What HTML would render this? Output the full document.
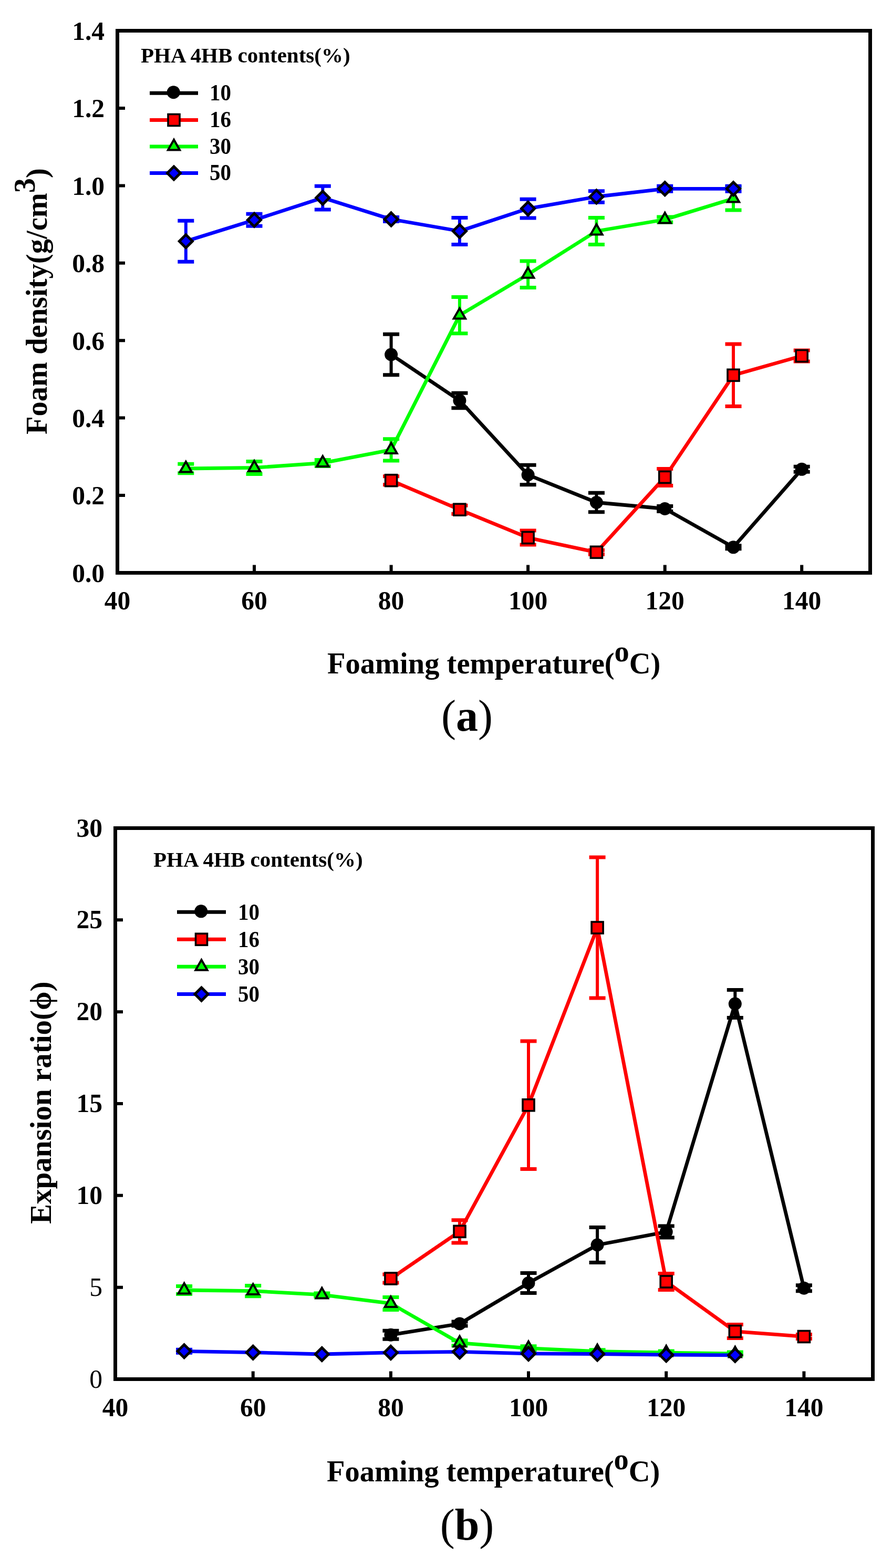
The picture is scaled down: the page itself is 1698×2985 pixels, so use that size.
<!DOCTYPE html><html><head><meta charset="utf-8"><title>Foam density and expansion ratio</title>
<style>html,body{margin:0;padding:0;background:#fff}svg{display:block}</style></head><body>
<svg width="1698" height="2985" viewBox="0 0 1698 2985">
<rect width="1698" height="2985" fill="#fff"/>
<polyline points="744.6,675.0 874.9,762.5 1005.1,904.0 1135.4,956.5 1265.7,968.5 1396.0,1041.8 1526.2,893.3" fill="none" stroke="#000000" stroke-width="6.8" stroke-linejoin="round"/>
<path d="M744.6 636.2V713.8" stroke="#000000" stroke-width="6" fill="none"/><path d="M729.1 636.2H760.1M729.1 713.8H760.1" stroke="#000000" stroke-width="7" fill="none"/>
<path d="M874.9 748.3V776.7" stroke="#000000" stroke-width="6" fill="none"/><path d="M859.4 748.3H890.4M859.4 776.7H890.4" stroke="#000000" stroke-width="7" fill="none"/>
<path d="M1005.1 885.3V922.7" stroke="#000000" stroke-width="6" fill="none"/><path d="M989.6 885.3H1020.6M989.6 922.7H1020.6" stroke="#000000" stroke-width="7" fill="none"/>
<path d="M1135.4 938.2V974.8" stroke="#000000" stroke-width="6" fill="none"/><path d="M1119.9 938.2H1150.9M1119.9 974.8H1150.9" stroke="#000000" stroke-width="7" fill="none"/>
<path d="M1265.7 963.5V973.5" stroke="#000000" stroke-width="6" fill="none"/><path d="M1250.2 963.5H1281.2M1250.2 973.5H1281.2" stroke="#000000" stroke-width="7" fill="none"/>
<path d="M1396.0 1038.8V1044.8" stroke="#000000" stroke-width="6" fill="none"/><path d="M1380.5 1038.8H1411.5M1380.5 1044.8H1411.5" stroke="#000000" stroke-width="7" fill="none"/>
<path d="M1526.2 888.3V898.3" stroke="#000000" stroke-width="6" fill="none"/><path d="M1510.7 888.3H1541.7M1510.7 898.3H1541.7" stroke="#000000" stroke-width="7" fill="none"/>
<circle cx="744.6" cy="675.0" r="12.5" fill="#000"/>
<circle cx="874.9" cy="762.5" r="12.5" fill="#000"/>
<circle cx="1005.1" cy="904.0" r="12.5" fill="#000"/>
<circle cx="1135.4" cy="956.5" r="12.5" fill="#000"/>
<circle cx="1265.7" cy="968.5" r="12.5" fill="#000"/>
<circle cx="1396.0" cy="1041.8" r="12.5" fill="#000"/>
<circle cx="1526.2" cy="893.3" r="12.5" fill="#000"/>
<polyline points="744.6,914.7 874.9,970.2 1005.1,1023.6 1135.4,1051.3 1265.7,908.4 1396.0,714.3 1526.2,677.5" fill="none" stroke="#ff0000" stroke-width="6.8" stroke-linejoin="round"/>
<path d="M744.6 906.7V922.7" stroke="#ff0000" stroke-width="6" fill="none"/><path d="M729.1 906.7H760.1M729.1 922.7H760.1" stroke="#ff0000" stroke-width="7" fill="none"/>
<path d="M874.9 962.2V978.2" stroke="#ff0000" stroke-width="6" fill="none"/><path d="M859.4 962.2H890.4M859.4 978.2H890.4" stroke="#ff0000" stroke-width="7" fill="none"/>
<path d="M1005.1 1010.1V1037.1" stroke="#ff0000" stroke-width="6" fill="none"/><path d="M989.6 1010.1H1020.6M989.6 1037.1H1020.6" stroke="#ff0000" stroke-width="7" fill="none"/>
<path d="M1135.4 1047.3V1055.3" stroke="#ff0000" stroke-width="6" fill="none"/><path d="M1119.9 1047.3H1150.9M1119.9 1055.3H1150.9" stroke="#ff0000" stroke-width="7" fill="none"/>
<path d="M1265.7 892.4V924.4" stroke="#ff0000" stroke-width="6" fill="none"/><path d="M1250.2 892.4H1281.2M1250.2 924.4H1281.2" stroke="#ff0000" stroke-width="7" fill="none"/>
<path d="M1396.0 655.0V773.6" stroke="#ff0000" stroke-width="6" fill="none"/><path d="M1380.5 655.0H1411.5M1380.5 773.6H1411.5" stroke="#ff0000" stroke-width="7" fill="none"/>
<path d="M1526.2 667.0V688.0" stroke="#ff0000" stroke-width="6" fill="none"/><path d="M1510.7 667.0H1541.7M1510.7 688.0H1541.7" stroke="#ff0000" stroke-width="7" fill="none"/>
<rect x="733.6" y="903.7" width="22" height="22" fill="#f00" stroke="#000" stroke-width="3.6"/>
<rect x="863.9" y="959.2" width="22" height="22" fill="#f00" stroke="#000" stroke-width="3.6"/>
<rect x="994.1" y="1012.6" width="22" height="22" fill="#f00" stroke="#000" stroke-width="3.6"/>
<rect x="1124.4" y="1040.3" width="22" height="22" fill="#f00" stroke="#000" stroke-width="3.6"/>
<rect x="1254.7" y="897.4" width="22" height="22" fill="#f00" stroke="#000" stroke-width="3.6"/>
<rect x="1385.0" y="703.3" width="22" height="22" fill="#f00" stroke="#000" stroke-width="3.6"/>
<rect x="1515.2" y="666.5" width="22" height="22" fill="#f00" stroke="#000" stroke-width="3.6"/>
<polyline points="353.8,892.0 484.0,890.4 614.3,881.4 744.6,856.4 874.9,600.1 1005.1,522.3 1135.4,440.0 1265.7,418.0 1396.0,378.0" fill="none" stroke="#00ff00" stroke-width="6.8" stroke-linejoin="round"/>
<path d="M353.8 883.3V900.7" stroke="#00ff00" stroke-width="6" fill="none"/><path d="M338.3 883.3H369.3M338.3 900.7H369.3" stroke="#00ff00" stroke-width="7" fill="none"/>
<path d="M484.0 878.4V902.4" stroke="#00ff00" stroke-width="6" fill="none"/><path d="M468.5 878.4H499.5M468.5 902.4H499.5" stroke="#00ff00" stroke-width="7" fill="none"/>
<path d="M614.3 875.4V887.4" stroke="#00ff00" stroke-width="6" fill="none"/><path d="M598.8 875.4H629.8M598.8 887.4H629.8" stroke="#00ff00" stroke-width="7" fill="none"/>
<path d="M744.6 835.7V877.1" stroke="#00ff00" stroke-width="6" fill="none"/><path d="M729.1 835.7H760.1M729.1 877.1H760.1" stroke="#00ff00" stroke-width="7" fill="none"/>
<path d="M874.9 565.4V634.8" stroke="#00ff00" stroke-width="6" fill="none"/><path d="M859.4 565.4H890.4M859.4 634.8H890.4" stroke="#00ff00" stroke-width="7" fill="none"/>
<path d="M1005.1 497.0V547.6" stroke="#00ff00" stroke-width="6" fill="none"/><path d="M989.6 497.0H1020.6M989.6 547.6H1020.6" stroke="#00ff00" stroke-width="7" fill="none"/>
<path d="M1135.4 414.5V465.5" stroke="#00ff00" stroke-width="6" fill="none"/><path d="M1119.9 414.5H1150.9M1119.9 465.5H1150.9" stroke="#00ff00" stroke-width="7" fill="none"/>
<path d="M1265.7 413.0V423.0" stroke="#00ff00" stroke-width="6" fill="none"/><path d="M1250.2 413.0H1281.2M1250.2 423.0H1281.2" stroke="#00ff00" stroke-width="7" fill="none"/>
<path d="M1396.0 356.0V400.0" stroke="#00ff00" stroke-width="6" fill="none"/><path d="M1380.5 356.0H1411.5M1380.5 400.0H1411.5" stroke="#00ff00" stroke-width="7" fill="none"/>
<polygon points="353.8,878.9 342.6,898.5 364.9,898.5" fill="#0f0" stroke="#000" stroke-width="4" stroke-linejoin="miter"/>
<polygon points="484.0,877.3 472.9,896.9 495.2,896.9" fill="#0f0" stroke="#000" stroke-width="4" stroke-linejoin="miter"/>
<polygon points="614.3,868.3 603.2,887.9 625.5,887.9" fill="#0f0" stroke="#000" stroke-width="4" stroke-linejoin="miter"/>
<polygon points="744.6,843.3 733.4,862.9 755.7,862.9" fill="#0f0" stroke="#000" stroke-width="4" stroke-linejoin="miter"/>
<polygon points="874.9,587.0 863.7,606.6 886.0,606.6" fill="#0f0" stroke="#000" stroke-width="4" stroke-linejoin="miter"/>
<polygon points="1005.1,509.2 994.0,528.8 1016.3,528.8" fill="#0f0" stroke="#000" stroke-width="4" stroke-linejoin="miter"/>
<polygon points="1135.4,426.9 1124.3,446.5 1146.6,446.5" fill="#0f0" stroke="#000" stroke-width="4" stroke-linejoin="miter"/>
<polygon points="1265.7,404.9 1254.5,424.5 1276.8,424.5" fill="#0f0" stroke="#000" stroke-width="4" stroke-linejoin="miter"/>
<polygon points="1396.0,364.9 1384.8,384.5 1407.1,384.5" fill="#0f0" stroke="#000" stroke-width="4" stroke-linejoin="miter"/>
<polyline points="353.8,459.3 484.0,418.8 614.3,376.6 744.6,417.4 874.9,440.0 1005.1,397.1 1135.4,374.5 1265.7,359.3 1396.0,359.3" fill="none" stroke="#0000ff" stroke-width="6.8" stroke-linejoin="round"/>
<path d="M353.8 420.3V498.3" stroke="#0000ff" stroke-width="6" fill="none"/><path d="M338.3 420.3H369.3M338.3 498.3H369.3" stroke="#0000ff" stroke-width="7" fill="none"/>
<path d="M484.0 407.3V430.3" stroke="#0000ff" stroke-width="6" fill="none"/><path d="M468.5 407.3H499.5M468.5 430.3H499.5" stroke="#0000ff" stroke-width="7" fill="none"/>
<path d="M614.3 354.2V399.0" stroke="#0000ff" stroke-width="6" fill="none"/><path d="M598.8 354.2H629.8M598.8 399.0H629.8" stroke="#0000ff" stroke-width="7" fill="none"/>
<path d="M744.6 413.4V421.4" stroke="#0000ff" stroke-width="6" fill="none"/><path d="M729.1 413.4H760.1M729.1 421.4H760.1" stroke="#0000ff" stroke-width="7" fill="none"/>
<path d="M874.9 414.5V465.5" stroke="#0000ff" stroke-width="6" fill="none"/><path d="M859.4 414.5H890.4M859.4 465.5H890.4" stroke="#0000ff" stroke-width="7" fill="none"/>
<path d="M1005.1 379.2V415.0" stroke="#0000ff" stroke-width="6" fill="none"/><path d="M989.6 379.2H1020.6M989.6 415.0H1020.6" stroke="#0000ff" stroke-width="7" fill="none"/>
<path d="M1135.4 363.8V385.2" stroke="#0000ff" stroke-width="6" fill="none"/><path d="M1119.9 363.8H1150.9M1119.9 385.2H1150.9" stroke="#0000ff" stroke-width="7" fill="none"/>
<path d="M1265.7 354.3V364.3" stroke="#0000ff" stroke-width="6" fill="none"/><path d="M1250.2 354.3H1281.2M1250.2 364.3H1281.2" stroke="#0000ff" stroke-width="7" fill="none"/>
<path d="M1396.0 354.3V364.3" stroke="#0000ff" stroke-width="6" fill="none"/><path d="M1380.5 354.3H1411.5M1380.5 364.3H1411.5" stroke="#0000ff" stroke-width="7" fill="none"/>
<polygon points="353.8,446.8 366.3,459.3 353.8,471.8 341.3,459.3" fill="#00f" stroke="#000" stroke-width="5"/>
<polygon points="484.0,406.3 496.5,418.8 484.0,431.3 471.5,418.8" fill="#00f" stroke="#000" stroke-width="5"/>
<polygon points="614.3,364.1 626.8,376.6 614.3,389.1 601.8,376.6" fill="#00f" stroke="#000" stroke-width="5"/>
<polygon points="744.6,404.9 757.1,417.4 744.6,429.9 732.1,417.4" fill="#00f" stroke="#000" stroke-width="5"/>
<polygon points="874.9,427.5 887.4,440.0 874.9,452.5 862.4,440.0" fill="#00f" stroke="#000" stroke-width="5"/>
<polygon points="1005.1,384.6 1017.6,397.1 1005.1,409.6 992.6,397.1" fill="#00f" stroke="#000" stroke-width="5"/>
<polygon points="1135.4,362.0 1147.9,374.5 1135.4,387.0 1122.9,374.5" fill="#00f" stroke="#000" stroke-width="5"/>
<polygon points="1265.7,346.8 1278.2,359.3 1265.7,371.8 1253.2,359.3" fill="#00f" stroke="#000" stroke-width="5"/>
<polygon points="1396.0,346.8 1408.5,359.3 1396.0,371.8 1383.5,359.3" fill="#00f" stroke="#000" stroke-width="5"/>
<rect x="223.5" y="58.5" width="1433.0" height="1032.0" fill="none" stroke="#000" stroke-width="7"/>
<path d="M484.0 1090.5V1075.5M744.6 1090.5V1075.5M1005.1 1090.5V1075.5M1265.7 1090.5V1075.5M1526.2 1090.5V1075.5M223.5 943.1H238.0M223.5 795.6H238.0M223.5 648.2H238.0M223.5 500.8H238.0M223.5 353.4H238.0M223.5 205.9H238.0" stroke="#000" stroke-width="6" fill="none"/>
<g style='font-family:"Liberation Serif",serif;font-weight:bold;font-size:49.5px'>
<text transform="translate(223.5,1160) scale(1,1.03)" text-anchor="middle">40</text>
<text transform="translate(484.0,1160) scale(1,1.03)" text-anchor="middle">60</text>
<text transform="translate(744.6,1160) scale(1,1.03)" text-anchor="middle">80</text>
<text transform="translate(1005.1,1160) scale(1,1.03)" text-anchor="middle">100</text>
<text transform="translate(1265.7,1160) scale(1,1.03)" text-anchor="middle">120</text>
<text transform="translate(1526.2,1160) scale(1,1.03)" text-anchor="middle">140</text>
<text transform="translate(199,1107.8) scale(1,1.03)" text-anchor="end">0.0</text>
<text transform="translate(199,960.4) scale(1,1.03)" text-anchor="end">0.2</text>
<text transform="translate(199,812.9) scale(1,1.03)" text-anchor="end">0.4</text>
<text transform="translate(199,665.5) scale(1,1.03)" text-anchor="end">0.6</text>
<text transform="translate(199,518.1) scale(1,1.03)" text-anchor="end">0.8</text>
<text transform="translate(199,370.7) scale(1,1.03)" text-anchor="end">1.0</text>
<text transform="translate(199,223.2) scale(1,1.03)" text-anchor="end">1.2</text>
<text transform="translate(199,75.8) scale(1,1.03)" text-anchor="end">1.4</text>
</g>
<text transform="translate(268,119) scale(1,1.0)" style='font-family:"Liberation Serif",serif;font-weight:bold;font-size:41px'>PHA 4HB contents(%)</text>
<line x1="285" y1="177.2" x2="377" y2="177.2" stroke="#000000" stroke-width="7"/>
<circle cx="330.2" cy="175.7" r="12.5" fill="#000"/>
<text transform="translate(399,191.0) scale(1,1.07)" style='font-family:"Liberation Serif",serif;font-weight:bold;font-size:41px'>10</text>
<line x1="285" y1="228.5" x2="377" y2="228.5" stroke="#ff0000" stroke-width="7"/>
<rect x="320.0" y="217.5" width="22" height="22" fill="#f00" stroke="#000" stroke-width="3.6"/>
<text transform="translate(399,242.3) scale(1,1.07)" style='font-family:"Liberation Serif",serif;font-weight:bold;font-size:41px'>16</text>
<line x1="285" y1="279" x2="377" y2="279" stroke="#00ff00" stroke-width="7"/>
<polygon points="331.0,265.9 319.9,285.5 342.1,285.5" fill="#0f0" stroke="#000" stroke-width="4" stroke-linejoin="miter"/>
<text transform="translate(399,292.8) scale(1,1.07)" style='font-family:"Liberation Serif",serif;font-weight:bold;font-size:41px'>30</text>
<line x1="285" y1="329.5" x2="377" y2="329.5" stroke="#0000ff" stroke-width="7"/>
<polygon points="331.0,317.0 343.5,329.5 331.0,342.0 318.5,329.5" fill="#00f" stroke="#000" stroke-width="5"/>
<text transform="translate(399,343.3) scale(1,1.07)" style='font-family:"Liberation Serif",serif;font-weight:bold;font-size:41px'>50</text>
<text x="623" y="1281.7" style='font-family:"Liberation Serif",serif;font-weight:bold;font-size:56.5px'>Foaming temperature(<tspan dy="-23">o</tspan><tspan dy="23">C)</tspan></text>
<text transform="translate(89,827) rotate(-90)" style='font-family:"Liberation Serif",serif;font-weight:bold;font-size:56.5px'>Foam density(g/cm<tspan dy="-23.5">3</tspan><tspan dy="23.5">)</tspan></text>
<text x="889" y="1391" text-anchor="middle" style='font-family:"Liberation Serif",serif;font-weight:bold;font-size:84px'><tspan style='font-family:"Liberation Serif",serif;font-weight:normal'>(</tspan>a<tspan style='font-family:"Liberation Serif",serif;font-weight:normal'>)</tspan></text>
<polyline points="743.9,2541.2 875.0,2520.0 1006.0,2442.5 1137.1,2370.0 1268.2,2345.1 1399.3,1911.0 1530.4,2452.2" fill="none" stroke="#000000" stroke-width="6.8" stroke-linejoin="round"/>
<path d="M743.9 2533.2V2549.2" stroke="#000000" stroke-width="6" fill="none"/><path d="M728.4 2533.2H759.4M728.4 2549.2H759.4" stroke="#000000" stroke-width="7" fill="none"/>
<path d="M875.0 2516.0V2524.0" stroke="#000000" stroke-width="6" fill="none"/><path d="M859.5 2516.0H890.5M859.5 2524.0H890.5" stroke="#000000" stroke-width="7" fill="none"/>
<path d="M1006.0 2423.4V2461.6" stroke="#000000" stroke-width="6" fill="none"/><path d="M990.5 2423.4H1021.5M990.5 2461.6H1021.5" stroke="#000000" stroke-width="7" fill="none"/>
<path d="M1137.1 2336.5V2403.5" stroke="#000000" stroke-width="6" fill="none"/><path d="M1121.6 2336.5H1152.6M1121.6 2403.5H1152.6" stroke="#000000" stroke-width="7" fill="none"/>
<path d="M1268.2 2334.1V2356.1" stroke="#000000" stroke-width="6" fill="none"/><path d="M1252.7 2334.1H1283.7M1252.7 2356.1H1283.7" stroke="#000000" stroke-width="7" fill="none"/>
<path d="M1399.3 1884.5V1937.5" stroke="#000000" stroke-width="6" fill="none"/><path d="M1383.8 1884.5H1414.8M1383.8 1937.5H1414.8" stroke="#000000" stroke-width="7" fill="none"/>
<path d="M1530.4 2446.7V2457.7" stroke="#000000" stroke-width="6" fill="none"/><path d="M1514.9 2446.7H1545.9M1514.9 2457.7H1545.9" stroke="#000000" stroke-width="7" fill="none"/>
<circle cx="743.9" cy="2541.2" r="12.5" fill="#000"/>
<circle cx="875.0" cy="2520.0" r="12.5" fill="#000"/>
<circle cx="1006.0" cy="2442.5" r="12.5" fill="#000"/>
<circle cx="1137.1" cy="2370.0" r="12.5" fill="#000"/>
<circle cx="1268.2" cy="2345.1" r="12.5" fill="#000"/>
<circle cx="1399.3" cy="1911.0" r="12.5" fill="#000"/>
<circle cx="1530.4" cy="2452.2" r="12.5" fill="#000"/>
<polyline points="743.9,2434.0 875.0,2344.4 1006.0,2103.8 1137.1,1766.0 1268.2,2440.0 1399.3,2534.6 1530.4,2544.5" fill="none" stroke="#ff0000" stroke-width="6.8" stroke-linejoin="round"/>
<path d="M743.9 2426.0V2442.0" stroke="#ff0000" stroke-width="6" fill="none"/><path d="M728.4 2426.0H759.4M728.4 2442.0H759.4" stroke="#ff0000" stroke-width="7" fill="none"/>
<path d="M875.0 2322.7V2366.1" stroke="#ff0000" stroke-width="6" fill="none"/><path d="M859.5 2322.7H890.5M859.5 2366.1H890.5" stroke="#ff0000" stroke-width="7" fill="none"/>
<path d="M1006.0 1982.1V2225.5" stroke="#ff0000" stroke-width="6" fill="none"/><path d="M990.5 1982.1H1021.5M990.5 2225.5H1021.5" stroke="#ff0000" stroke-width="7" fill="none"/>
<path d="M1137.1 1632.1V1899.9" stroke="#ff0000" stroke-width="6" fill="none"/><path d="M1121.6 1632.1H1152.6M1121.6 1899.9H1152.6" stroke="#ff0000" stroke-width="7" fill="none"/>
<path d="M1268.2 2424.4V2455.6" stroke="#ff0000" stroke-width="6" fill="none"/><path d="M1252.7 2424.4H1283.7M1252.7 2455.6H1283.7" stroke="#ff0000" stroke-width="7" fill="none"/>
<path d="M1399.3 2521.6V2547.6" stroke="#ff0000" stroke-width="6" fill="none"/><path d="M1383.8 2521.6H1414.8M1383.8 2547.6H1414.8" stroke="#ff0000" stroke-width="7" fill="none"/>
<path d="M1530.4 2540.5V2548.5" stroke="#ff0000" stroke-width="6" fill="none"/><path d="M1514.9 2540.5H1545.9M1514.9 2548.5H1545.9" stroke="#ff0000" stroke-width="7" fill="none"/>
<rect x="732.9" y="2423.0" width="22" height="22" fill="#f00" stroke="#000" stroke-width="3.6"/>
<rect x="864.0" y="2333.4" width="22" height="22" fill="#f00" stroke="#000" stroke-width="3.6"/>
<rect x="995.0" y="2092.8" width="22" height="22" fill="#f00" stroke="#000" stroke-width="3.6"/>
<rect x="1126.1" y="1755.0" width="22" height="22" fill="#f00" stroke="#000" stroke-width="3.6"/>
<rect x="1257.2" y="2429.0" width="22" height="22" fill="#f00" stroke="#000" stroke-width="3.6"/>
<rect x="1388.3" y="2523.6" width="22" height="22" fill="#f00" stroke="#000" stroke-width="3.6"/>
<rect x="1519.4" y="2533.5" width="22" height="22" fill="#f00" stroke="#000" stroke-width="3.6"/>
<polyline points="350.6,2456.0 481.7,2457.6 612.8,2464.9 743.9,2481.4 875.0,2556.7 1006.0,2566.7 1137.1,2572.7 1268.2,2575.0 1399.3,2577.0" fill="none" stroke="#00ff00" stroke-width="6.8" stroke-linejoin="round"/>
<path d="M350.6 2448.6V2463.4" stroke="#00ff00" stroke-width="6" fill="none"/><path d="M335.1 2448.6H366.1M335.1 2463.4H366.1" stroke="#00ff00" stroke-width="7" fill="none"/>
<path d="M481.7 2447.4V2467.8" stroke="#00ff00" stroke-width="6" fill="none"/><path d="M466.2 2447.4H497.2M466.2 2467.8H497.2" stroke="#00ff00" stroke-width="7" fill="none"/>
<path d="M612.8 2461.9V2467.9" stroke="#00ff00" stroke-width="6" fill="none"/><path d="M597.3 2461.9H628.3M597.3 2467.9H628.3" stroke="#00ff00" stroke-width="7" fill="none"/>
<path d="M743.9 2469.4V2493.4" stroke="#00ff00" stroke-width="6" fill="none"/><path d="M728.4 2469.4H759.4M728.4 2493.4H759.4" stroke="#00ff00" stroke-width="7" fill="none"/>
<path d="M875.0 2551.7V2561.7" stroke="#00ff00" stroke-width="6" fill="none"/><path d="M859.5 2551.7H890.5M859.5 2561.7H890.5" stroke="#00ff00" stroke-width="7" fill="none"/>
<path d="M1006.0 2562.7V2570.7" stroke="#00ff00" stroke-width="6" fill="none"/><path d="M990.5 2562.7H1021.5M990.5 2570.7H1021.5" stroke="#00ff00" stroke-width="7" fill="none"/>
<path d="M1137.1 2569.7V2575.7" stroke="#00ff00" stroke-width="6" fill="none"/><path d="M1121.6 2569.7H1152.6M1121.6 2575.7H1152.6" stroke="#00ff00" stroke-width="7" fill="none"/>
<path d="M1268.2 2572.0V2578.0" stroke="#00ff00" stroke-width="6" fill="none"/><path d="M1252.7 2572.0H1283.7M1252.7 2578.0H1283.7" stroke="#00ff00" stroke-width="7" fill="none"/>
<path d="M1399.3 2574.0V2580.0" stroke="#00ff00" stroke-width="6" fill="none"/><path d="M1383.8 2574.0H1414.8M1383.8 2580.0H1414.8" stroke="#00ff00" stroke-width="7" fill="none"/>
<polygon points="350.6,2442.9 339.4,2462.5 361.7,2462.5" fill="#0f0" stroke="#000" stroke-width="4" stroke-linejoin="miter"/>
<polygon points="481.7,2444.5 470.5,2464.1 492.8,2464.1" fill="#0f0" stroke="#000" stroke-width="4" stroke-linejoin="miter"/>
<polygon points="612.8,2451.8 601.6,2471.4 623.9,2471.4" fill="#0f0" stroke="#000" stroke-width="4" stroke-linejoin="miter"/>
<polygon points="743.9,2468.3 732.7,2487.9 755.0,2487.9" fill="#0f0" stroke="#000" stroke-width="4" stroke-linejoin="miter"/>
<polygon points="875.0,2543.6 863.8,2563.2 886.1,2563.2" fill="#0f0" stroke="#000" stroke-width="4" stroke-linejoin="miter"/>
<polygon points="1006.0,2553.6 994.9,2573.2 1017.2,2573.2" fill="#0f0" stroke="#000" stroke-width="4" stroke-linejoin="miter"/>
<polygon points="1137.1,2559.6 1126.0,2579.2 1148.3,2579.2" fill="#0f0" stroke="#000" stroke-width="4" stroke-linejoin="miter"/>
<polygon points="1268.2,2561.9 1257.1,2581.5 1279.4,2581.5" fill="#0f0" stroke="#000" stroke-width="4" stroke-linejoin="miter"/>
<polygon points="1399.3,2563.9 1388.2,2583.5 1410.5,2583.5" fill="#0f0" stroke="#000" stroke-width="4" stroke-linejoin="miter"/>
<polyline points="350.6,2572.3 481.7,2574.7 612.8,2578.0 743.9,2574.9 875.0,2573.3 1006.0,2576.9 1137.1,2577.5 1268.2,2579.2 1399.3,2579.8" fill="none" stroke="#0000ff" stroke-width="6.8" stroke-linejoin="round"/>
<path d="M350.6 2569.3V2575.3" stroke="#0000ff" stroke-width="6" fill="none"/><path d="M335.1 2569.3H366.1M335.1 2575.3H366.1" stroke="#0000ff" stroke-width="7" fill="none"/>
<polygon points="350.6,2559.8 363.1,2572.3 350.6,2584.8 338.1,2572.3" fill="#00f" stroke="#000" stroke-width="5"/>
<polygon points="481.7,2562.2 494.2,2574.7 481.7,2587.2 469.2,2574.7" fill="#00f" stroke="#000" stroke-width="5"/>
<polygon points="612.8,2565.5 625.3,2578.0 612.8,2590.5 600.3,2578.0" fill="#00f" stroke="#000" stroke-width="5"/>
<polygon points="743.9,2562.4 756.4,2574.9 743.9,2587.4 731.4,2574.9" fill="#00f" stroke="#000" stroke-width="5"/>
<polygon points="875.0,2560.8 887.5,2573.3 875.0,2585.8 862.5,2573.3" fill="#00f" stroke="#000" stroke-width="5"/>
<polygon points="1006.0,2564.4 1018.5,2576.9 1006.0,2589.4 993.5,2576.9" fill="#00f" stroke="#000" stroke-width="5"/>
<polygon points="1137.1,2565.0 1149.6,2577.5 1137.1,2590.0 1124.6,2577.5" fill="#00f" stroke="#000" stroke-width="5"/>
<polygon points="1268.2,2566.7 1280.7,2579.2 1268.2,2591.7 1255.7,2579.2" fill="#00f" stroke="#000" stroke-width="5"/>
<polygon points="1399.3,2567.3 1411.8,2579.8 1399.3,2592.3 1386.8,2579.8" fill="#00f" stroke="#000" stroke-width="5"/>
<rect x="219.5" y="1576.5" width="1442.0" height="1049.0" fill="none" stroke="#000" stroke-width="7"/>
<path d="M481.7 2625.5V2610.5M743.9 2625.5V2610.5M1006.0 2625.5V2610.5M1268.2 2625.5V2610.5M1530.4 2625.5V2610.5M219.5 2450.7H234.0M219.5 2275.8H234.0M219.5 2101.0H234.0M219.5 1926.2H234.0M219.5 1751.3H234.0" stroke="#000" stroke-width="6" fill="none"/>
<g style='font-family:"Liberation Serif",serif;font-weight:bold;font-size:49.5px'>
<text transform="translate(219.5,2695.5) scale(1,1.03)" text-anchor="middle">40</text>
<text transform="translate(481.7,2695.5) scale(1,1.03)" text-anchor="middle">60</text>
<text transform="translate(743.9,2695.5) scale(1,1.03)" text-anchor="middle">80</text>
<text transform="translate(1006.0,2695.5) scale(1,1.03)" text-anchor="middle">100</text>
<text transform="translate(1268.2,2695.5) scale(1,1.03)" text-anchor="middle">120</text>
<text transform="translate(1530.4,2695.5) scale(1,1.03)" text-anchor="middle">140</text>
<text transform="translate(195,2641.5) scale(1,1.03)" text-anchor="end" style='font-family:"Liberation Serif",serif;font-weight:normal'>0</text>
<text transform="translate(195,2466.7) scale(1,1.03)" text-anchor="end" style='font-family:"Liberation Serif",serif;font-weight:normal'>5</text>
<text transform="translate(195,2291.8) scale(1,1.03)" text-anchor="end">10</text>
<text transform="translate(195,2117.0) scale(1,1.03)" text-anchor="end">15</text>
<text transform="translate(195,1942.2) scale(1,1.03)" text-anchor="end">20</text>
<text transform="translate(195,1767.3) scale(1,1.03)" text-anchor="end">25</text>
<text transform="translate(195,1592.5) scale(1,1.03)" text-anchor="end">30</text>
</g>
<text transform="translate(292,1650) scale(1,1.0)" style='font-family:"Liberation Serif",serif;font-weight:bold;font-size:41px'>PHA 4HB contents(%)</text>
<line x1="337" y1="1736.3" x2="430" y2="1736.3" stroke="#000000" stroke-width="7"/>
<circle cx="382.7" cy="1734.8" r="12.5" fill="#000"/>
<text transform="translate(453,1750.9) scale(1,1.07)" style='font-family:"Liberation Serif",serif;font-weight:bold;font-size:41px'>10</text>
<line x1="337" y1="1788.3" x2="430" y2="1788.3" stroke="#ff0000" stroke-width="7"/>
<rect x="372.5" y="1777.3" width="22" height="22" fill="#f00" stroke="#000" stroke-width="3.6"/>
<text transform="translate(453,1802.9) scale(1,1.07)" style='font-family:"Liberation Serif",serif;font-weight:bold;font-size:41px'>16</text>
<line x1="337" y1="1840.3" x2="430" y2="1840.3" stroke="#00ff00" stroke-width="7"/>
<polygon points="383.5,1827.2 372.4,1846.8 394.6,1846.8" fill="#0f0" stroke="#000" stroke-width="4" stroke-linejoin="miter"/>
<text transform="translate(453,1854.9) scale(1,1.07)" style='font-family:"Liberation Serif",serif;font-weight:bold;font-size:41px'>30</text>
<line x1="337" y1="1892.6" x2="430" y2="1892.6" stroke="#0000ff" stroke-width="7"/>
<polygon points="383.5,1880.1 396.0,1892.6 383.5,1905.1 371.0,1892.6" fill="#00f" stroke="#000" stroke-width="5"/>
<text transform="translate(453,1907.2) scale(1,1.07)" style='font-family:"Liberation Serif",serif;font-weight:bold;font-size:41px'>50</text>
<text x="622" y="2820.2" style='font-family:"Liberation Serif",serif;font-weight:bold;font-size:56.5px'>Foaming temperature(<tspan dy="-23">o</tspan><tspan dy="23">C)</tspan></text>
<text transform="translate(97,2330) rotate(-90)" style='font-family:"Liberation Serif",serif;font-weight:bold;font-size:57px'>Expansion ratio(ϕ)</text>
<text x="889" y="2931" text-anchor="middle" style='font-family:"Liberation Serif",serif;font-weight:bold;font-size:84px'><tspan style='font-family:"Liberation Serif",serif;font-weight:normal'>(</tspan>b<tspan style='font-family:"Liberation Serif",serif;font-weight:normal'>)</tspan></text>
</svg></body></html>
